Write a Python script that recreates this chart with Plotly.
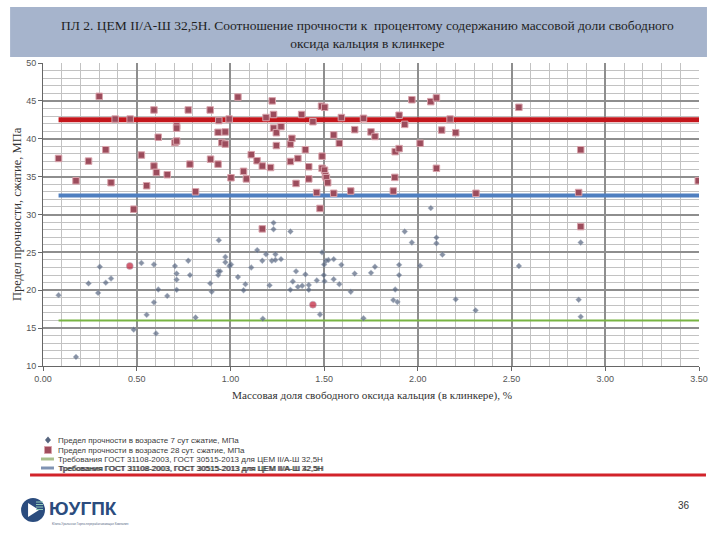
import plotly.graph_objects as go

# ---------------- data ----------------
x7 = [0.083, 0.176, 0.243, 0.294, 0.303, 0.335, 0.363, 0.463, 0.484, 0.525, 0.553, 0.592, 0.592,
      0.603, 0.615, 0.663, 0.704, 0.713, 0.713, 0.713, 0.775, 0.784, 0.814, 0.892, 0.900, 0.938,
      0.935, 0.935, 0.945, 0.973, 0.973, 0.995, 1.003, 1.040, 1.070, 1.080, 1.111, 1.143, 1.170,
      1.173, 1.190, 1.209, 1.221, 1.230, 1.230, 1.240, 1.240, 1.270, 1.320, 1.320, 1.333, 1.350,
      1.360, 1.383, 1.400, 1.418, 1.418, 1.440, 1.461, 1.478, 1.489, 1.498, 1.500, 1.502, 1.510,
      1.523, 1.551, 1.551, 1.581, 1.592, 1.642, 1.663, 1.710, 1.750, 1.771, 1.869, 1.879, 1.891,
      1.900, 1.900, 1.930, 1.968, 2.012, 2.069, 2.099, 2.099, 2.131, 2.202, 2.308, 2.539, 2.858,
      2.869, 2.869]
y7 = [19.35, 11.2, 20.9, 19.65, 23.1, 21.0, 21.55, 23.2, 14.8, 23.6, 16.75, 23.4, 18.4,
      14.3, 20.1, 19.25, 23.2, 22.2, 21.4, 20.05, 23.9, 22.0, 16.4, 20.9, 19.8, 26.6,
      22.5, 22.0, 22.5, 24.4, 23.7, 23.2, 23.4, 21.75, 20.0, 20.8, 23.0, 25.3, 23.9,
      16.25, 24.75, 20.65, 23.9, 28.9, 28.05, 24.0, 24.75, 24.1, 27.75, 20.05, 21.15, 22.5,
      20.45, 20.6, 22.1, 20.7, 20.05, 18.1, 21.3, 16.8, 25.0, 22.0, 23.4, 21.2, 23.9,
      24.0, 24.1, 21.45, 20.8, 23.35, 19.8, 22.2, 16.3, 22.3, 23.1, 18.7, 20.1, 18.45,
      23.35, 22.0, 27.75, 26.3, 23.25, 30.85, 26.95, 26.2, 24.7, 18.8, 17.35, 23.2, 18.75,
      26.3, 16.5]
highlight7 = [0.463, 1.440]

x28 = [0.083, 0.176, 0.243, 0.300, 0.335, 0.363, 0.385, 0.465, 0.484, 0.525, 0.553, 0.592, 0.592,
       0.605, 0.615, 0.663, 0.704, 0.713, 0.713, 0.713, 0.775, 0.784, 0.814, 0.892, 0.894, 0.934,
       0.934, 0.938, 0.954, 0.972, 0.972, 0.993, 1.003, 1.040, 1.070, 1.085, 1.111, 1.142, 1.170,
       1.170, 1.190, 1.214, 1.223, 1.230, 1.230, 1.245, 1.245, 1.270, 1.320, 1.328, 1.320, 1.350,
       1.360, 1.380, 1.400, 1.418, 1.418, 1.440, 1.460, 1.478, 1.486, 1.503, 1.489, 1.489, 1.502,
       1.507, 1.512, 1.519, 1.551, 1.551, 1.581, 1.592, 1.642, 1.663, 1.710, 1.750, 1.771, 1.869,
       1.877, 1.879, 1.900, 1.900, 1.930, 1.968, 2.012, 2.069, 2.099, 2.099, 2.127, 2.172, 2.202,
       2.310, 2.539, 2.858, 2.869, 2.869, 3.496]
y28 = [37.4, 34.45, 37.05, 45.6, 38.55, 34.2, 42.6, 42.6, 30.7, 37.85, 33.8, 43.8, 36.4,
       35.55, 40.2, 35.25, 39.5, 39.7, 41.7, 41.4, 43.8, 36.65, 33.0, 43.8, 37.3, 36.65,
       40.85, 42.4, 39.5, 40.9, 39.3, 42.6, 34.85, 45.5, 35.7, 34.7, 37.9, 37.1, 36.4,
       28.1, 42.8, 36.2, 45.0, 43.2, 41.4, 40.8, 39.1, 41.6, 39.3, 40.05, 37.0, 34.1,
       37.4, 43.2, 38.55, 36.3, 34.7, 42.25, 32.9, 30.8, 44.3, 44.15, 37.7, 36.1, 35.85,
       35.1, 34.85, 34.2, 40.5, 32.8, 39.4, 42.8, 33.1, 41.2, 42.7, 40.9, 40.3, 33.1,
       34.9, 38.3, 38.7, 43.1, 41.9, 45.15, 39.4, 44.9, 45.4, 36.1, 41.15, 42.6, 40.8,
       32.8, 44.15, 32.9, 38.55, 28.4, 34.45]

req_x = [0.083, 3.5]
req_green = 16.0
req_blue = 32.5
req_red = 42.5

title_text = ("ПЛ 2. ЦЕМ II/А-Ш 32,5Н. Соотношение прочности к  процентому содержанию массовой доли свободного"
              "<br>оксида кальция в клинкере")
x_title = "Массовая доля свободного оксида кальция (в клинкере), %"
y_title = "Предел прочности, сжатие, МПа"
legend_labels = [
    "Предел прочности в возрасте 7 сут сжатие, МПа",
    "Предел прочности в возрасте 28 сут. сжатие, МПа",
    "Требования ГОСТ 31108-2003, ГОСТ 30515-2013 для ЦЕМ II/А-Ш 32,5Н",
    "Требования ГОСТ 31108-2003, ГОСТ 30515-2013 для ЦЕМ II/А-Ш 32,5Н",
    "Требования ГОСТ 31108-2003, ГОСТ 30515-2013 для ЦЕМ II/А-Ш 42,5Н",
]
page_number = "36"

# ---------------- geometry helpers ----------------
W, H = 720, 540
PL, PR, PT, PB = 43, 701, 63, 366


def px(x):
    return (x - PL) / (PR - PL)


def py(y):
    return (PB - y) / (PB - PT)


fig = go.Figure()

# requirement lines
fig.add_trace(go.Scatter(x=req_x, y=[req_red] * 2, mode="lines",
                         line=dict(color="#c4161c", width=5), showlegend=False, hoverinfo="skip"))
fig.add_trace(go.Scatter(x=req_x, y=[req_blue] * 2, mode="lines",
                         line=dict(color="#4f7fc0", width=4), showlegend=False, hoverinfo="skip"))
fig.add_trace(go.Scatter(x=req_x, y=[req_green] * 2, mode="lines",
                         line=dict(color="#78b443", width=2), showlegend=False, hoverinfo="skip"))

# 28-day squares
fig.add_trace(go.Scatter(x=x28, y=y28, mode="markers",
                         marker=dict(symbol="square", size=6.5, color="#9c4c5c",
                                     line=dict(color="#d8a3ab", width=1)),
                         showlegend=False))

# 7-day diamonds
col7 = ["#c01b35" if xv in highlight7 else "#56657f" for xv in x7]
size7 = [7 if xv in highlight7 else 4.5 for xv in x7]
sym7 = ["circle" if xv in highlight7 else "diamond" for xv in x7]
fig.add_trace(go.Scatter(x=x7, y=y7, mode="markers",
                         marker=dict(symbol=sym7, size=size7, color=col7,
                                     line=dict(color="#9aa6bb", width=0.5)),
                         showlegend=False))

shapes = []
annotations = []

# title banner
shapes.append(dict(type="rect", xref="paper", yref="paper",
                   x0=px(10), x1=px(709), y0=py(57), y1=py(7),
                   fillcolor="#a6b4cc", line=dict(width=0), layer="below"))
annotations.append(dict(xref="paper", yref="paper", x=px(368), y=py(34), text=title_text,
                        showarrow=False, xanchor="center", yanchor="middle",
                        font=dict(family="Liberation Serif", size=13.5, color="#1f1f1f")))

# axis titles
annotations.append(dict(xref="paper", yref="paper", x=px(373), y=py(395), text=x_title,
                        showarrow=False, xanchor="center", yanchor="middle",
                        font=dict(family="Liberation Serif", size=11.2, color="#333")))
annotations.append(dict(xref="paper", yref="paper", x=px(17), y=py(214), text=y_title,
                        showarrow=False, xanchor="center", yanchor="middle", textangle=-90,
                        font=dict(family="Liberation Serif", size=12.5, color="#333")))

# custom legend
rows = [440, 450, 459, 468]
lf = dict(family="Liberation Sans", size=8, color="#3a3a3a")
cx, cy = 48, rows[0]
shapes.append(dict(type="path", xref="paper", yref="paper",
                   path=f"M {px(cx)},{py(cy-3.5)} L {px(cx+3)},{py(cy)} L {px(cx)},{py(cy+3.5)} L {px(cx-3)},{py(cy)} Z",
                   fillcolor="#56657f", line=dict(width=0)))
shapes.append(dict(type="rect", xref="paper", yref="paper",
                   x0=px(44.5), x1=px(51.5), y0=py(rows[1] + 3.5), y1=py(rows[1] - 3.5),
                   fillcolor="#a04d5d", line=dict(color="#d8a3ab", width=1)))
shapes.append(dict(type="line", xref="paper", yref="paper",
                   x0=px(41), x1=px(54), y0=py(rows[2]), y1=py(rows[2]),
                   line=dict(color="#a8bf8c", width=3)))
shapes.append(dict(type="line", xref="paper", yref="paper",
                   x0=px(41), x1=px(54), y0=py(rows[3]), y1=py(rows[3]),
                   line=dict(color="#7f93b3", width=3)))
for i in range(3):
    annotations.append(dict(xref="paper", yref="paper", x=px(56), y=py(rows[i]), text=legend_labels[i],
                            showarrow=False, xanchor="left", yanchor="middle", font=lf))
annotations.append(dict(xref="paper", yref="paper", x=px(56), y=py(rows[3]), text=legend_labels[3],
                        showarrow=False, xanchor="left", yanchor="middle", font=lf))
annotations.append(dict(xref="paper", yref="paper", x=px(57.5), y=py(rows[3] + 0.5), text=legend_labels[4],
                        showarrow=False, xanchor="left", yanchor="middle", font=lf))

# red separator
shapes.append(dict(type="line", xref="paper", yref="paper",
                   x0=px(30), x1=px(708), y0=py(475), y1=py(475),
                   line=dict(color="#d2232a", width=3)))

# logo
shapes.append(dict(type="circle", xref="paper", yref="paper",
                   x0=px(21), x1=px(45), y0=py(522), y1=py(498),
                   fillcolor="#2b4c7e", line=dict(width=0)))
shapes.append(dict(type="path", xref="paper", yref="paper",
                   path=f"M {px(28)},{py(503)} L {px(39)},{py(510)} L {px(28)},{py(517)} Z",
                   fillcolor="white", line=dict(width=0)))
for k in range(4):
    yy = 502 + k * 2.5
    shapes.append(dict(type="line", xref="paper", yref="paper",
                       x0=px(36), x1=px(43), y0=py(yy), y1=py(yy),
                       line=dict(color="#8fcbb6", width=1)))
annotations.append(dict(xref="paper", yref="paper", x=px(47), y=py(508), text="<b>ЮУГПК</b>",
                        showarrow=False, xanchor="left", yanchor="middle",
                        font=dict(family="Liberation Sans", size=19, color="#2b4c7e")))
annotations.append(dict(xref="paper", yref="paper", x=px(50), y=py(524),
                        text="Южно-Уральская Горно-перерабатывающая Компания",
                        showarrow=False, xanchor="left", yanchor="middle",
                        font=dict(family="Liberation Sans", size=3, color="#5a6b88")))
annotations.append(dict(xref="paper", yref="paper", x=px(686), y=py(505), text=page_number,
                        showarrow=False, xanchor="center", yanchor="middle",
                        font=dict(family="Liberation Sans", size=10, color="#333")))

fig.update_layout(
    width=W, height=H,
    margin=dict(l=PL, r=W - PR, t=PT, b=H - PB, pad=0),
    paper_bgcolor="white", plot_bgcolor="white",
    shapes=shapes, annotations=annotations, showlegend=False,
    xaxis=dict(range=[0, 3.5], dtick=0.5, tick0=0, tickformat=".2f",
               showgrid=True, gridcolor="#8e8e8e", gridwidth=1.5,
               minor=dict(dtick=0.1, showgrid=True, gridcolor="#c2c2c2", gridwidth=1),
               ticks="outside", ticklen=4, tickcolor="#666",
               showline=True, linecolor="#666", linewidth=1, zeroline=False,
               tickfont=dict(family="Liberation Sans", size=9, color="#555")),
    yaxis=dict(range=[10, 50], dtick=5, tick0=10,
               showgrid=True, gridcolor="#8e8e8e", gridwidth=1.5,
               minor=dict(dtick=1, showgrid=True, gridcolor="#c2c2c2", gridwidth=1),
               ticks="outside", ticklen=4, tickcolor="#666",
               showline=True, linecolor="#666", linewidth=1, zeroline=False,
               tickfont=dict(family="Liberation Sans", size=9, color="#555")),
)

fig.write_html("out.html")
